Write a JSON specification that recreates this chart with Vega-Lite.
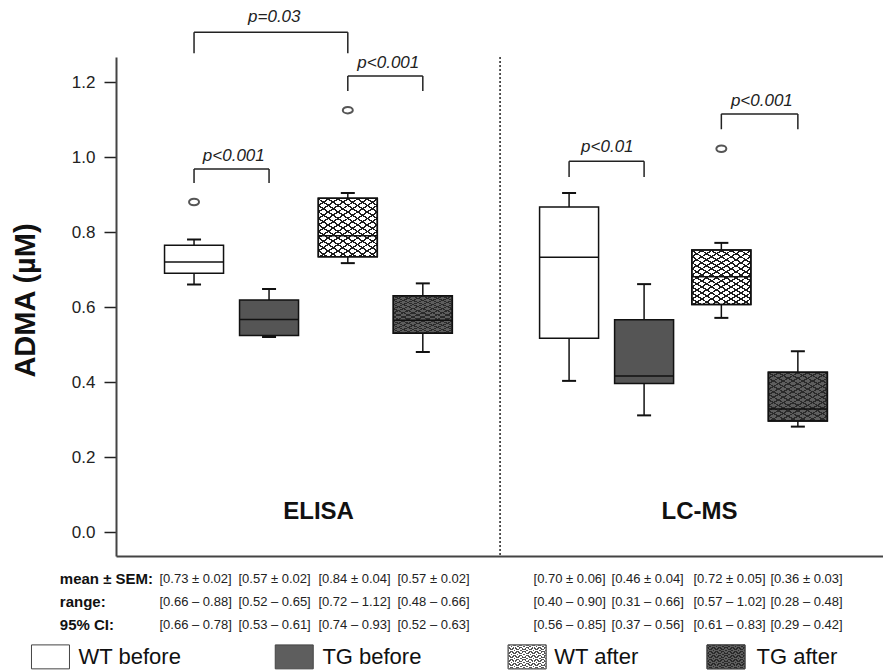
{
"$schema": "https://vega.github.io/schema/vega-lite/v6.json",
"width": 767,
"height": 499,
"autosize": {"type": "none"},
"padding": {"left": 116, "top": 57, "right": 0, "bottom": 116},
"background": "white",
"config": {
  "font": "Liberation Sans",
  "view": {"stroke": null}
},
"datasets": {
  "boxes": [
    {"method":"ELISA","group":"WT before","pos":1,"lower":0.66,"q1":0.69,"median":0.72,"q3":0.765,"upper":0.78,"outlier":0.88},
    {"method":"ELISA","group":"TG before","pos":2,"lower":0.52,"q1":0.524,"median":0.567,"q3":0.619,"upper":0.648,"outlier":null},
    {"method":"ELISA","group":"WT after","pos":3.05,"lower":0.717,"q1":0.734,"median":0.79,"q3":0.89,"upper":0.904,"outlier":1.125},
    {"method":"ELISA","group":"TG after","pos":4.05,"lower":0.48,"q1":0.53,"median":0.565,"q3":0.63,"upper":0.663,"outlier":null},
    {"method":"LC-MS","group":"WT before","pos":6,"lower":0.403,"q1":0.517,"median":0.733,"q3":0.867,"upper":0.904,"outlier":null},
    {"method":"LC-MS","group":"TG before","pos":7,"lower":0.311,"q1":0.396,"median":0.416,"q3":0.566,"upper":0.661,"outlier":null},
    {"method":"LC-MS","group":"WT after","pos":8.03,"lower":0.571,"q1":0.607,"median":0.681,"q3":0.752,"upper":0.771,"outlier":1.022},
    {"method":"LC-MS","group":"TG after","pos":9.05,"lower":0.281,"q1":0.296,"median":0.328,"q3":0.426,"upper":0.482,"outlier":null}
  ],
  "brackets": [
    {"x1":1,"x2":3.05,"top":1.333,"bot":1.277,"label":"p=0.03","tx":2.07,"ty":1.373},
    {"x1":3.05,"x2":4.05,"top":1.216,"bot":1.176,"label":"p<0.001","tx":3.59,"ty":1.251},
    {"x1":1,"x2":2,"top":0.968,"bot":0.931,"label":"p<0.001","tx":1.53,"ty":1.003},
    {"x1":6,"x2":7,"top":0.989,"bot":0.947,"label":"p<0.01","tx":6.51,"ty":1.027},
    {"x1":8.03,"x2":9.05,"top":1.115,"bot":1.074,"label":"p<0.001","tx":8.57,"ty":1.149}
  ],
  "divider": [{"x":5.08}],
  "methods": [
    {"text":"ELISA","x":2.66,"y":0.053},
    {"text":"LC-MS","x":7.74,"y":0.053}
  ],
  "rowlabels": [
    {"text":"mean ± SEM:","x":-0.789,"y":-0.125},
    {"text":"range:","x":-0.789,"y":-0.187},
    {"text":"95% CI:","x":-0.789,"y":-0.248}
  ],
  "table": [
    {"text":"[0.73 ± 0.02]","x":0.539,"y":-0.125},
    {"text":"[0.57 ± 0.02]","x":1.592,"y":-0.125},
    {"text":"[0.84 ± 0.04]","x":2.658,"y":-0.125},
    {"text":"[0.57 ± 0.02]","x":3.711,"y":-0.125},
    {"text":"[0.70 ± 0.06]","x":5.526,"y":-0.125},
    {"text":"[0.46 ± 0.04]","x":6.566,"y":-0.125},
    {"text":"[0.72 ± 0.05]","x":7.658,"y":-0.125},
    {"text":"[0.36 ± 0.03]","x":8.684,"y":-0.125},
    {"text":"[0.66 – 0.88]","x":0.539,"y":-0.187},
    {"text":"[0.52 – 0.65]","x":1.592,"y":-0.187},
    {"text":"[0.72 – 1.12]","x":2.658,"y":-0.187},
    {"text":"[0.48 – 0.66]","x":3.711,"y":-0.187},
    {"text":"[0.40 – 0.90]","x":5.526,"y":-0.187},
    {"text":"[0.31 – 0.66]","x":6.566,"y":-0.187},
    {"text":"[0.57 – 1.02]","x":7.658,"y":-0.187},
    {"text":"[0.28 – 0.48]","x":8.684,"y":-0.187},
    {"text":"[0.66 – 0.78]","x":0.539,"y":-0.248},
    {"text":"[0.53 – 0.61]","x":1.592,"y":-0.248},
    {"text":"[0.74 – 0.93]","x":2.658,"y":-0.248},
    {"text":"[0.52 – 0.63]","x":3.711,"y":-0.248},
    {"text":"[0.56 – 0.85]","x":5.526,"y":-0.248},
    {"text":"[0.37 – 0.56]","x":6.566,"y":-0.248},
    {"text":"[0.61 – 0.83]","x":7.658,"y":-0.248},
    {"text":"[0.29 – 0.42]","x":8.684,"y":-0.248}
  ],
  "legend": [
    {"group":"WT before","sx":-0.914,"lx":-0.539,"y":-0.333},
    {"group":"TG before","sx":2.336,"lx":2.711,"y":-0.333},
    {"group":"WT after","sx":5.441,"lx":5.803,"y":-0.333},
    {"group":"TG after","sx":8.092,"lx":8.5,"y":-0.333}
  ]
},
"layer": [
  {
    "data": {"name": "boxes"},
    "mark": {"type": "rule", "color": "#111111", "strokeWidth": 1.5},
    "encoding": {
      "x": {"field": "pos", "type": "quantitative", "scale": {"domain": [0.0263, 10.1184], "nice": false, "zero": false},
            "axis": {"title": null, "labels": false, "ticks": false, "grid": false, "domain": true, "domainColor": "#444444", "domainWidth": 2}},
      "y": {"field": "lower", "type": "quantitative", "scale": {"domain": [-0.064, 1.26667], "nice": false, "zero": false},
            "axis": {"title": "ADMA (µM)", "values": [0, 0.2, 0.4, 0.6, 0.8, 1, 1.2], "format": ".1f", "grid": false,
                     "labelFontSize": 17, "labelColor": "#222222", "tickSize": 12, "tickWidth": 1.5, "tickColor": "#222222",
                     "domainColor": "#444444", "domainWidth": 2, "labelPadding": 9,
                     "titleFontSize": 29, "titleFontWeight": "bold", "titleColor": "#111111",
                     "titleX": -91, "titleY": 243, "titleAngle": -90, "titleAlign": "center", "titleBaseline": "middle"}},
      "y2": {"field": "upper"}
    }
  },
  {
    "data": {"name": "boxes"},
    "transform": [{"filter": {"field": "group", "oneOf": ["WT before", "TG before"]}}],
    "mark": {"type": "bar", "size": 59, "stroke": "#111111", "strokeWidth": 1.5},
    "encoding": {
      "x": {"field": "pos", "type": "quantitative"},
      "y": {"field": "q1", "type": "quantitative"},
      "y2": {"field": "q3"},
      "fill": {"condition": {"test": "datum.group === 'TG before'", "value": "#555555"}, "value": "#ffffff"}
    }
  },
  {
    "data": {"name": "boxes"},
    "transform": [{"filter": {"field": "group", "equal": "WT after"}}],
    "mark": {"type": "bar", "size": 59, "stroke": "#111111", "strokeWidth": 1.5,
      "fill": {"gradient": "linear", "x1": 0, "y1": 0, "x2": 0.77, "y2": 1.15, "stops": [
      {"offset":0,"color":"#1e1e1e"},{"offset":0.0167,"color":"#1e1e1e"},{"offset":0.0167,"color":"#ffffff"},{"offset":0.0667,"color":"#ffffff"},
      {"offset":0.0667,"color":"#1e1e1e"},{"offset":0.0833,"color":"#1e1e1e"},{"offset":0.0833,"color":"#ffffff"},{"offset":0.1333,"color":"#ffffff"},
      {"offset":0.1333,"color":"#1e1e1e"},{"offset":0.15,"color":"#1e1e1e"},{"offset":0.15,"color":"#ffffff"},{"offset":0.2,"color":"#ffffff"},
      {"offset":0.2,"color":"#1e1e1e"},{"offset":0.2167,"color":"#1e1e1e"},{"offset":0.2167,"color":"#ffffff"},{"offset":0.2667,"color":"#ffffff"},
      {"offset":0.2667,"color":"#1e1e1e"},{"offset":0.2833,"color":"#1e1e1e"},{"offset":0.2833,"color":"#ffffff"},{"offset":0.3333,"color":"#ffffff"},
      {"offset":0.3333,"color":"#1e1e1e"},{"offset":0.35,"color":"#1e1e1e"},{"offset":0.35,"color":"#ffffff"},{"offset":0.4,"color":"#ffffff"},
      {"offset":0.4,"color":"#1e1e1e"},{"offset":0.4167,"color":"#1e1e1e"},{"offset":0.4167,"color":"#ffffff"},{"offset":0.4667,"color":"#ffffff"},
      {"offset":0.4667,"color":"#1e1e1e"},{"offset":0.4833,"color":"#1e1e1e"},{"offset":0.4833,"color":"#ffffff"},{"offset":0.5333,"color":"#ffffff"},
      {"offset":0.5333,"color":"#1e1e1e"},{"offset":0.55,"color":"#1e1e1e"},{"offset":0.55,"color":"#ffffff"},{"offset":0.6,"color":"#ffffff"},
      {"offset":0.6,"color":"#1e1e1e"},{"offset":0.6167,"color":"#1e1e1e"},{"offset":0.6167,"color":"#ffffff"},{"offset":0.6667,"color":"#ffffff"},
      {"offset":0.6667,"color":"#1e1e1e"},{"offset":0.6833,"color":"#1e1e1e"},{"offset":0.6833,"color":"#ffffff"},{"offset":0.7333,"color":"#ffffff"},
      {"offset":0.7333,"color":"#1e1e1e"},{"offset":0.75,"color":"#1e1e1e"},{"offset":0.75,"color":"#ffffff"},{"offset":0.8,"color":"#ffffff"},
      {"offset":0.8,"color":"#1e1e1e"},{"offset":0.8167,"color":"#1e1e1e"},{"offset":0.8167,"color":"#ffffff"},{"offset":0.8667,"color":"#ffffff"},
      {"offset":0.8667,"color":"#1e1e1e"},{"offset":0.8833,"color":"#1e1e1e"},{"offset":0.8833,"color":"#ffffff"},{"offset":0.9333,"color":"#ffffff"},
      {"offset":0.9333,"color":"#1e1e1e"},{"offset":0.95,"color":"#1e1e1e"},{"offset":0.95,"color":"#ffffff"},{"offset":1,"color":"#ffffff"}
      ]}},
    "encoding": {
      "x": {"field": "pos", "type": "quantitative"},
      "y": {"field": "q1", "type": "quantitative"},
      "y2": {"field": "q3"}
    }
  },
  {
    "data": {"name": "boxes"},
    "transform": [{"filter": {"field": "group", "equal": "WT after"}}],
    "mark": {"type": "bar", "size": 59, "stroke": "#111111", "strokeWidth": 1.5,
      "fill": {"gradient": "linear", "x1": 1, "y1": 0, "x2": 0.23, "y2": 1.15, "stops": [
      {"offset":0,"color":"#1e1e1e"},{"offset":0.0167,"color":"#1e1e1e"},{"offset":0.0167,"color":"rgba(0,0,0,0)"},{"offset":0.0667,"color":"rgba(0,0,0,0)"},
      {"offset":0.0667,"color":"#1e1e1e"},{"offset":0.0833,"color":"#1e1e1e"},{"offset":0.0833,"color":"rgba(0,0,0,0)"},{"offset":0.1333,"color":"rgba(0,0,0,0)"},
      {"offset":0.1333,"color":"#1e1e1e"},{"offset":0.15,"color":"#1e1e1e"},{"offset":0.15,"color":"rgba(0,0,0,0)"},{"offset":0.2,"color":"rgba(0,0,0,0)"},
      {"offset":0.2,"color":"#1e1e1e"},{"offset":0.2167,"color":"#1e1e1e"},{"offset":0.2167,"color":"rgba(0,0,0,0)"},{"offset":0.2667,"color":"rgba(0,0,0,0)"},
      {"offset":0.2667,"color":"#1e1e1e"},{"offset":0.2833,"color":"#1e1e1e"},{"offset":0.2833,"color":"rgba(0,0,0,0)"},{"offset":0.3333,"color":"rgba(0,0,0,0)"},
      {"offset":0.3333,"color":"#1e1e1e"},{"offset":0.35,"color":"#1e1e1e"},{"offset":0.35,"color":"rgba(0,0,0,0)"},{"offset":0.4,"color":"rgba(0,0,0,0)"},
      {"offset":0.4,"color":"#1e1e1e"},{"offset":0.4167,"color":"#1e1e1e"},{"offset":0.4167,"color":"rgba(0,0,0,0)"},{"offset":0.4667,"color":"rgba(0,0,0,0)"},
      {"offset":0.4667,"color":"#1e1e1e"},{"offset":0.4833,"color":"#1e1e1e"},{"offset":0.4833,"color":"rgba(0,0,0,0)"},{"offset":0.5333,"color":"rgba(0,0,0,0)"},
      {"offset":0.5333,"color":"#1e1e1e"},{"offset":0.55,"color":"#1e1e1e"},{"offset":0.55,"color":"rgba(0,0,0,0)"},{"offset":0.6,"color":"rgba(0,0,0,0)"},
      {"offset":0.6,"color":"#1e1e1e"},{"offset":0.6167,"color":"#1e1e1e"},{"offset":0.6167,"color":"rgba(0,0,0,0)"},{"offset":0.6667,"color":"rgba(0,0,0,0)"},
      {"offset":0.6667,"color":"#1e1e1e"},{"offset":0.6833,"color":"#1e1e1e"},{"offset":0.6833,"color":"rgba(0,0,0,0)"},{"offset":0.7333,"color":"rgba(0,0,0,0)"},
      {"offset":0.7333,"color":"#1e1e1e"},{"offset":0.75,"color":"#1e1e1e"},{"offset":0.75,"color":"rgba(0,0,0,0)"},{"offset":0.8,"color":"rgba(0,0,0,0)"},
      {"offset":0.8,"color":"#1e1e1e"},{"offset":0.8167,"color":"#1e1e1e"},{"offset":0.8167,"color":"rgba(0,0,0,0)"},{"offset":0.8667,"color":"rgba(0,0,0,0)"},
      {"offset":0.8667,"color":"#1e1e1e"},{"offset":0.8833,"color":"#1e1e1e"},{"offset":0.8833,"color":"rgba(0,0,0,0)"},{"offset":0.9333,"color":"rgba(0,0,0,0)"},
      {"offset":0.9333,"color":"#1e1e1e"},{"offset":0.95,"color":"#1e1e1e"},{"offset":0.95,"color":"rgba(0,0,0,0)"},{"offset":1,"color":"rgba(0,0,0,0)"}
      ]}},
    "encoding": {
      "x": {"field": "pos", "type": "quantitative"},
      "y": {"field": "q1", "type": "quantitative"},
      "y2": {"field": "q3"}
    }
  },
  {
    "data": {"name": "boxes"},
    "transform": [{"filter": {"field": "group", "equal": "TG after"}}],
    "mark": {"type": "bar", "size": 59, "stroke": "#111111", "strokeWidth": 1.5,
      "fill": {"gradient": "linear", "x1": 0, "y1": 0, "x2": 0.77, "y2": 1.15, "stops": [
      {"offset":0,"color":"#2a2a2a"},{"offset":0.0167,"color":"#2a2a2a"},{"offset":0.0167,"color":"#5e5e5e"},{"offset":0.0667,"color":"#5e5e5e"},
      {"offset":0.0667,"color":"#2a2a2a"},{"offset":0.0833,"color":"#2a2a2a"},{"offset":0.0833,"color":"#5e5e5e"},{"offset":0.1333,"color":"#5e5e5e"},
      {"offset":0.1333,"color":"#2a2a2a"},{"offset":0.15,"color":"#2a2a2a"},{"offset":0.15,"color":"#5e5e5e"},{"offset":0.2,"color":"#5e5e5e"},
      {"offset":0.2,"color":"#2a2a2a"},{"offset":0.2167,"color":"#2a2a2a"},{"offset":0.2167,"color":"#5e5e5e"},{"offset":0.2667,"color":"#5e5e5e"},
      {"offset":0.2667,"color":"#2a2a2a"},{"offset":0.2833,"color":"#2a2a2a"},{"offset":0.2833,"color":"#5e5e5e"},{"offset":0.3333,"color":"#5e5e5e"},
      {"offset":0.3333,"color":"#2a2a2a"},{"offset":0.35,"color":"#2a2a2a"},{"offset":0.35,"color":"#5e5e5e"},{"offset":0.4,"color":"#5e5e5e"},
      {"offset":0.4,"color":"#2a2a2a"},{"offset":0.4167,"color":"#2a2a2a"},{"offset":0.4167,"color":"#5e5e5e"},{"offset":0.4667,"color":"#5e5e5e"},
      {"offset":0.4667,"color":"#2a2a2a"},{"offset":0.4833,"color":"#2a2a2a"},{"offset":0.4833,"color":"#5e5e5e"},{"offset":0.5333,"color":"#5e5e5e"},
      {"offset":0.5333,"color":"#2a2a2a"},{"offset":0.55,"color":"#2a2a2a"},{"offset":0.55,"color":"#5e5e5e"},{"offset":0.6,"color":"#5e5e5e"},
      {"offset":0.6,"color":"#2a2a2a"},{"offset":0.6167,"color":"#2a2a2a"},{"offset":0.6167,"color":"#5e5e5e"},{"offset":0.6667,"color":"#5e5e5e"},
      {"offset":0.6667,"color":"#2a2a2a"},{"offset":0.6833,"color":"#2a2a2a"},{"offset":0.6833,"color":"#5e5e5e"},{"offset":0.7333,"color":"#5e5e5e"},
      {"offset":0.7333,"color":"#2a2a2a"},{"offset":0.75,"color":"#2a2a2a"},{"offset":0.75,"color":"#5e5e5e"},{"offset":0.8,"color":"#5e5e5e"},
      {"offset":0.8,"color":"#2a2a2a"},{"offset":0.8167,"color":"#2a2a2a"},{"offset":0.8167,"color":"#5e5e5e"},{"offset":0.8667,"color":"#5e5e5e"},
      {"offset":0.8667,"color":"#2a2a2a"},{"offset":0.8833,"color":"#2a2a2a"},{"offset":0.8833,"color":"#5e5e5e"},{"offset":0.9333,"color":"#5e5e5e"},
      {"offset":0.9333,"color":"#2a2a2a"},{"offset":0.95,"color":"#2a2a2a"},{"offset":0.95,"color":"#5e5e5e"},{"offset":1,"color":"#5e5e5e"}
      ]}},
    "encoding": {
      "x": {"field": "pos", "type": "quantitative"},
      "y": {"field": "q1", "type": "quantitative"},
      "y2": {"field": "q3"}
    }
  },
  {
    "data": {"name": "boxes"},
    "transform": [{"filter": {"field": "group", "equal": "TG after"}}],
    "mark": {"type": "bar", "size": 59, "stroke": "#111111", "strokeWidth": 1.5,
      "fill": {"gradient": "linear", "x1": 1, "y1": 0, "x2": 0.23, "y2": 1.15, "stops": [
      {"offset":0,"color":"#2a2a2a"},{"offset":0.0167,"color":"#2a2a2a"},{"offset":0.0167,"color":"rgba(0,0,0,0)"},{"offset":0.0667,"color":"rgba(0,0,0,0)"},
      {"offset":0.0667,"color":"#2a2a2a"},{"offset":0.0833,"color":"#2a2a2a"},{"offset":0.0833,"color":"rgba(0,0,0,0)"},{"offset":0.1333,"color":"rgba(0,0,0,0)"},
      {"offset":0.1333,"color":"#2a2a2a"},{"offset":0.15,"color":"#2a2a2a"},{"offset":0.15,"color":"rgba(0,0,0,0)"},{"offset":0.2,"color":"rgba(0,0,0,0)"},
      {"offset":0.2,"color":"#2a2a2a"},{"offset":0.2167,"color":"#2a2a2a"},{"offset":0.2167,"color":"rgba(0,0,0,0)"},{"offset":0.2667,"color":"rgba(0,0,0,0)"},
      {"offset":0.2667,"color":"#2a2a2a"},{"offset":0.2833,"color":"#2a2a2a"},{"offset":0.2833,"color":"rgba(0,0,0,0)"},{"offset":0.3333,"color":"rgba(0,0,0,0)"},
      {"offset":0.3333,"color":"#2a2a2a"},{"offset":0.35,"color":"#2a2a2a"},{"offset":0.35,"color":"rgba(0,0,0,0)"},{"offset":0.4,"color":"rgba(0,0,0,0)"},
      {"offset":0.4,"color":"#2a2a2a"},{"offset":0.4167,"color":"#2a2a2a"},{"offset":0.4167,"color":"rgba(0,0,0,0)"},{"offset":0.4667,"color":"rgba(0,0,0,0)"},
      {"offset":0.4667,"color":"#2a2a2a"},{"offset":0.4833,"color":"#2a2a2a"},{"offset":0.4833,"color":"rgba(0,0,0,0)"},{"offset":0.5333,"color":"rgba(0,0,0,0)"},
      {"offset":0.5333,"color":"#2a2a2a"},{"offset":0.55,"color":"#2a2a2a"},{"offset":0.55,"color":"rgba(0,0,0,0)"},{"offset":0.6,"color":"rgba(0,0,0,0)"},
      {"offset":0.6,"color":"#2a2a2a"},{"offset":0.6167,"color":"#2a2a2a"},{"offset":0.6167,"color":"rgba(0,0,0,0)"},{"offset":0.6667,"color":"rgba(0,0,0,0)"},
      {"offset":0.6667,"color":"#2a2a2a"},{"offset":0.6833,"color":"#2a2a2a"},{"offset":0.6833,"color":"rgba(0,0,0,0)"},{"offset":0.7333,"color":"rgba(0,0,0,0)"},
      {"offset":0.7333,"color":"#2a2a2a"},{"offset":0.75,"color":"#2a2a2a"},{"offset":0.75,"color":"rgba(0,0,0,0)"},{"offset":0.8,"color":"rgba(0,0,0,0)"},
      {"offset":0.8,"color":"#2a2a2a"},{"offset":0.8167,"color":"#2a2a2a"},{"offset":0.8167,"color":"rgba(0,0,0,0)"},{"offset":0.8667,"color":"rgba(0,0,0,0)"},
      {"offset":0.8667,"color":"#2a2a2a"},{"offset":0.8833,"color":"#2a2a2a"},{"offset":0.8833,"color":"rgba(0,0,0,0)"},{"offset":0.9333,"color":"rgba(0,0,0,0)"},
      {"offset":0.9333,"color":"#2a2a2a"},{"offset":0.95,"color":"#2a2a2a"},{"offset":0.95,"color":"rgba(0,0,0,0)"},{"offset":1,"color":"rgba(0,0,0,0)"}
      ]}},
    "encoding": {
      "x": {"field": "pos", "type": "quantitative"},
      "y": {"field": "q1", "type": "quantitative"},
      "y2": {"field": "q3"}
    }
  },
  {
    "data": {"name": "boxes"},
    "mark": {"type": "tick", "orient": "horizontal", "size": 59, "thickness": 1.5, "color": "#111111", "opacity": 1},
    "encoding": {
      "x": {"field": "pos", "type": "quantitative"},
      "y": {"field": "median", "type": "quantitative"}
    }
  },
  {
    "data": {"name": "boxes"},
    "mark": {"type": "tick", "orient": "horizontal", "size": 14, "thickness": 2, "color": "#111111", "opacity": 1},
    "encoding": {
      "x": {"field": "pos", "type": "quantitative"},
      "y": {"field": "upper", "type": "quantitative"}
    }
  },
  {
    "data": {"name": "boxes"},
    "mark": {"type": "tick", "orient": "horizontal", "size": 14, "thickness": 2, "color": "#111111", "opacity": 1},
    "encoding": {
      "x": {"field": "pos", "type": "quantitative"},
      "y": {"field": "lower", "type": "quantitative"}
    }
  },
  {
    "data": {"name": "boxes"},
    "transform": [{"filter": "isValid(datum.outlier)"}],
    "mark": {"type": "point", "shape": "M-1,0A1,0.65 0 1,1 1,0A1,0.65 0 1,1 -1,0Z", "size": 100, "filled": false, "fill": "#ffffff", "stroke": "#555555", "strokeWidth": 2, "opacity": 1},
    "encoding": {
      "x": {"field": "pos", "type": "quantitative"},
      "y": {"field": "outlier", "type": "quantitative"}
    }
  },
  {
    "data": {"name": "divider"},
    "mark": {"type": "rule", "color": "#222222", "strokeWidth": 1.5, "strokeDash": [2, 2]},
    "encoding": {
      "x": {"field": "x", "type": "quantitative"}
    }
  },
  {
    "data": {"name": "brackets"},
    "mark": {"type": "rule", "color": "#222222", "strokeWidth": 1.5},
    "encoding": {
      "x": {"field": "x1", "type": "quantitative"},
      "x2": {"field": "x2"},
      "y": {"field": "top", "type": "quantitative"}
    }
  },
  {
    "data": {"name": "brackets"},
    "mark": {"type": "rule", "color": "#222222", "strokeWidth": 1.5},
    "encoding": {
      "x": {"field": "x1", "type": "quantitative"},
      "y": {"field": "top", "type": "quantitative"},
      "y2": {"field": "bot"}
    }
  },
  {
    "data": {"name": "brackets"},
    "mark": {"type": "rule", "color": "#222222", "strokeWidth": 1.5},
    "encoding": {
      "x": {"field": "x2", "type": "quantitative"},
      "y": {"field": "top", "type": "quantitative"},
      "y2": {"field": "bot"}
    }
  },
  {
    "data": {"name": "brackets"},
    "mark": {"type": "text", "fontSize": 17, "fontStyle": "italic", "color": "#222222", "align": "center", "baseline": "middle"},
    "encoding": {
      "x": {"field": "tx", "type": "quantitative"},
      "y": {"field": "ty", "type": "quantitative"},
      "text": {"field": "label"}
    }
  },
  {
    "data": {"name": "methods"},
    "mark": {"type": "text", "fontSize": 24, "fontWeight": "bold", "color": "#111111", "align": "center", "baseline": "middle"},
    "encoding": {
      "x": {"field": "x", "type": "quantitative"},
      "y": {"field": "y", "type": "quantitative"},
      "text": {"field": "text"}
    }
  },
  {
    "data": {"name": "rowlabels"},
    "mark": {"type": "text", "fontSize": 15, "fontWeight": "bold", "color": "#111111", "align": "left", "baseline": "middle"},
    "encoding": {
      "x": {"field": "x", "type": "quantitative"},
      "y": {"field": "y", "type": "quantitative"},
      "text": {"field": "text"}
    }
  },
  {
    "data": {"name": "table"},
    "mark": {"type": "text", "fontSize": 13, "color": "#222222", "align": "left", "baseline": "middle"},
    "encoding": {
      "x": {"field": "x", "type": "quantitative"},
      "y": {"field": "y", "type": "quantitative"},
      "text": {"field": "text"}
    }
  },
  {
    "data": {"name": "legend"},
    "transform": [{"filter": {"field": "group", "oneOf": ["WT before", "TG before"]}}],
    "mark": {"type": "point", "shape": "M-1,-0.63H1V0.63H-1Z", "size": 1444, "filled": true, "stroke": "#444444", "strokeWidth": 1, "opacity": 1},
    "encoding": {
      "x": {"field": "sx", "type": "quantitative"},
      "y": {"field": "y", "type": "quantitative"},
      "fill": {"condition": {"test": "datum.group === 'TG before'", "value": "#5e5e5e"}, "value": "#ffffff"}
    }
  },
  {
    "data": {"name": "legend"},
    "transform": [{"filter": {"field": "group", "equal": "WT after"}}],
    "mark": {"type": "point", "shape": "M-1,-0.63H1V0.63H-1Z", "size": 1444, "filled": true, "stroke": "#666666", "strokeWidth": 1, "opacity": 1,
      "fill": {"gradient": "linear", "x1": 0, "y1": 0, "x2": 0.77, "y2": 1.15, "stops": [
      {"offset":0,"color":"#555555"},{"offset":0.0167,"color":"#555555"},{"offset":0.0167,"color":"#ffffff"},{"offset":0.0667,"color":"#ffffff"},
      {"offset":0.0667,"color":"#555555"},{"offset":0.0833,"color":"#555555"},{"offset":0.0833,"color":"#ffffff"},{"offset":0.1333,"color":"#ffffff"},
      {"offset":0.1333,"color":"#555555"},{"offset":0.15,"color":"#555555"},{"offset":0.15,"color":"#ffffff"},{"offset":0.2,"color":"#ffffff"},
      {"offset":0.2,"color":"#555555"},{"offset":0.2167,"color":"#555555"},{"offset":0.2167,"color":"#ffffff"},{"offset":0.2667,"color":"#ffffff"},
      {"offset":0.2667,"color":"#555555"},{"offset":0.2833,"color":"#555555"},{"offset":0.2833,"color":"#ffffff"},{"offset":0.3333,"color":"#ffffff"},
      {"offset":0.3333,"color":"#555555"},{"offset":0.35,"color":"#555555"},{"offset":0.35,"color":"#ffffff"},{"offset":0.4,"color":"#ffffff"},
      {"offset":0.4,"color":"#555555"},{"offset":0.4167,"color":"#555555"},{"offset":0.4167,"color":"#ffffff"},{"offset":0.4667,"color":"#ffffff"},
      {"offset":0.4667,"color":"#555555"},{"offset":0.4833,"color":"#555555"},{"offset":0.4833,"color":"#ffffff"},{"offset":0.5333,"color":"#ffffff"},
      {"offset":0.5333,"color":"#555555"},{"offset":0.55,"color":"#555555"},{"offset":0.55,"color":"#ffffff"},{"offset":0.6,"color":"#ffffff"},
      {"offset":0.6,"color":"#555555"},{"offset":0.6167,"color":"#555555"},{"offset":0.6167,"color":"#ffffff"},{"offset":0.6667,"color":"#ffffff"},
      {"offset":0.6667,"color":"#555555"},{"offset":0.6833,"color":"#555555"},{"offset":0.6833,"color":"#ffffff"},{"offset":0.7333,"color":"#ffffff"},
      {"offset":0.7333,"color":"#555555"},{"offset":0.75,"color":"#555555"},{"offset":0.75,"color":"#ffffff"},{"offset":0.8,"color":"#ffffff"},
      {"offset":0.8,"color":"#555555"},{"offset":0.8167,"color":"#555555"},{"offset":0.8167,"color":"#ffffff"},{"offset":0.8667,"color":"#ffffff"},
      {"offset":0.8667,"color":"#555555"},{"offset":0.8833,"color":"#555555"},{"offset":0.8833,"color":"#ffffff"},{"offset":0.9333,"color":"#ffffff"},
      {"offset":0.9333,"color":"#555555"},{"offset":0.95,"color":"#555555"},{"offset":0.95,"color":"#ffffff"},{"offset":1,"color":"#ffffff"}
      ]}},
    "encoding": {
      "x": {"field": "sx", "type": "quantitative"},
      "y": {"field": "y", "type": "quantitative"}
    }
  },
  {
    "data": {"name": "legend"},
    "transform": [{"filter": {"field": "group", "equal": "WT after"}}],
    "mark": {"type": "point", "shape": "M-1,-0.63H1V0.63H-1Z", "size": 1444, "filled": true, "stroke": "#666666", "strokeWidth": 1, "opacity": 1,
      "fill": {"gradient": "linear", "x1": 1, "y1": 0, "x2": 0.23, "y2": 1.15, "stops": [
      {"offset":0,"color":"#555555"},{"offset":0.0167,"color":"#555555"},{"offset":0.0167,"color":"rgba(0,0,0,0)"},{"offset":0.0667,"color":"rgba(0,0,0,0)"},
      {"offset":0.0667,"color":"#555555"},{"offset":0.0833,"color":"#555555"},{"offset":0.0833,"color":"rgba(0,0,0,0)"},{"offset":0.1333,"color":"rgba(0,0,0,0)"},
      {"offset":0.1333,"color":"#555555"},{"offset":0.15,"color":"#555555"},{"offset":0.15,"color":"rgba(0,0,0,0)"},{"offset":0.2,"color":"rgba(0,0,0,0)"},
      {"offset":0.2,"color":"#555555"},{"offset":0.2167,"color":"#555555"},{"offset":0.2167,"color":"rgba(0,0,0,0)"},{"offset":0.2667,"color":"rgba(0,0,0,0)"},
      {"offset":0.2667,"color":"#555555"},{"offset":0.2833,"color":"#555555"},{"offset":0.2833,"color":"rgba(0,0,0,0)"},{"offset":0.3333,"color":"rgba(0,0,0,0)"},
      {"offset":0.3333,"color":"#555555"},{"offset":0.35,"color":"#555555"},{"offset":0.35,"color":"rgba(0,0,0,0)"},{"offset":0.4,"color":"rgba(0,0,0,0)"},
      {"offset":0.4,"color":"#555555"},{"offset":0.4167,"color":"#555555"},{"offset":0.4167,"color":"rgba(0,0,0,0)"},{"offset":0.4667,"color":"rgba(0,0,0,0)"},
      {"offset":0.4667,"color":"#555555"},{"offset":0.4833,"color":"#555555"},{"offset":0.4833,"color":"rgba(0,0,0,0)"},{"offset":0.5333,"color":"rgba(0,0,0,0)"},
      {"offset":0.5333,"color":"#555555"},{"offset":0.55,"color":"#555555"},{"offset":0.55,"color":"rgba(0,0,0,0)"},{"offset":0.6,"color":"rgba(0,0,0,0)"},
      {"offset":0.6,"color":"#555555"},{"offset":0.6167,"color":"#555555"},{"offset":0.6167,"color":"rgba(0,0,0,0)"},{"offset":0.6667,"color":"rgba(0,0,0,0)"},
      {"offset":0.6667,"color":"#555555"},{"offset":0.6833,"color":"#555555"},{"offset":0.6833,"color":"rgba(0,0,0,0)"},{"offset":0.7333,"color":"rgba(0,0,0,0)"},
      {"offset":0.7333,"color":"#555555"},{"offset":0.75,"color":"#555555"},{"offset":0.75,"color":"rgba(0,0,0,0)"},{"offset":0.8,"color":"rgba(0,0,0,0)"},
      {"offset":0.8,"color":"#555555"},{"offset":0.8167,"color":"#555555"},{"offset":0.8167,"color":"rgba(0,0,0,0)"},{"offset":0.8667,"color":"rgba(0,0,0,0)"},
      {"offset":0.8667,"color":"#555555"},{"offset":0.8833,"color":"#555555"},{"offset":0.8833,"color":"rgba(0,0,0,0)"},{"offset":0.9333,"color":"rgba(0,0,0,0)"},
      {"offset":0.9333,"color":"#555555"},{"offset":0.95,"color":"#555555"},{"offset":0.95,"color":"rgba(0,0,0,0)"},{"offset":1,"color":"rgba(0,0,0,0)"}
      ]}},
    "encoding": {
      "x": {"field": "sx", "type": "quantitative"},
      "y": {"field": "y", "type": "quantitative"}
    }
  },
  {
    "data": {"name": "legend"},
    "transform": [{"filter": {"field": "group", "equal": "TG after"}}],
    "mark": {"type": "point", "shape": "M-1,-0.63H1V0.63H-1Z", "size": 1444, "filled": true, "stroke": "#444444", "strokeWidth": 1, "opacity": 1,
      "fill": {"gradient": "linear", "x1": 0, "y1": 0, "x2": 0.77, "y2": 1.15, "stops": [
      {"offset":0,"color":"#2a2a2a"},{"offset":0.0167,"color":"#2a2a2a"},{"offset":0.0167,"color":"#5e5e5e"},{"offset":0.0667,"color":"#5e5e5e"},
      {"offset":0.0667,"color":"#2a2a2a"},{"offset":0.0833,"color":"#2a2a2a"},{"offset":0.0833,"color":"#5e5e5e"},{"offset":0.1333,"color":"#5e5e5e"},
      {"offset":0.1333,"color":"#2a2a2a"},{"offset":0.15,"color":"#2a2a2a"},{"offset":0.15,"color":"#5e5e5e"},{"offset":0.2,"color":"#5e5e5e"},
      {"offset":0.2,"color":"#2a2a2a"},{"offset":0.2167,"color":"#2a2a2a"},{"offset":0.2167,"color":"#5e5e5e"},{"offset":0.2667,"color":"#5e5e5e"},
      {"offset":0.2667,"color":"#2a2a2a"},{"offset":0.2833,"color":"#2a2a2a"},{"offset":0.2833,"color":"#5e5e5e"},{"offset":0.3333,"color":"#5e5e5e"},
      {"offset":0.3333,"color":"#2a2a2a"},{"offset":0.35,"color":"#2a2a2a"},{"offset":0.35,"color":"#5e5e5e"},{"offset":0.4,"color":"#5e5e5e"},
      {"offset":0.4,"color":"#2a2a2a"},{"offset":0.4167,"color":"#2a2a2a"},{"offset":0.4167,"color":"#5e5e5e"},{"offset":0.4667,"color":"#5e5e5e"},
      {"offset":0.4667,"color":"#2a2a2a"},{"offset":0.4833,"color":"#2a2a2a"},{"offset":0.4833,"color":"#5e5e5e"},{"offset":0.5333,"color":"#5e5e5e"},
      {"offset":0.5333,"color":"#2a2a2a"},{"offset":0.55,"color":"#2a2a2a"},{"offset":0.55,"color":"#5e5e5e"},{"offset":0.6,"color":"#5e5e5e"},
      {"offset":0.6,"color":"#2a2a2a"},{"offset":0.6167,"color":"#2a2a2a"},{"offset":0.6167,"color":"#5e5e5e"},{"offset":0.6667,"color":"#5e5e5e"},
      {"offset":0.6667,"color":"#2a2a2a"},{"offset":0.6833,"color":"#2a2a2a"},{"offset":0.6833,"color":"#5e5e5e"},{"offset":0.7333,"color":"#5e5e5e"},
      {"offset":0.7333,"color":"#2a2a2a"},{"offset":0.75,"color":"#2a2a2a"},{"offset":0.75,"color":"#5e5e5e"},{"offset":0.8,"color":"#5e5e5e"},
      {"offset":0.8,"color":"#2a2a2a"},{"offset":0.8167,"color":"#2a2a2a"},{"offset":0.8167,"color":"#5e5e5e"},{"offset":0.8667,"color":"#5e5e5e"},
      {"offset":0.8667,"color":"#2a2a2a"},{"offset":0.8833,"color":"#2a2a2a"},{"offset":0.8833,"color":"#5e5e5e"},{"offset":0.9333,"color":"#5e5e5e"},
      {"offset":0.9333,"color":"#2a2a2a"},{"offset":0.95,"color":"#2a2a2a"},{"offset":0.95,"color":"#5e5e5e"},{"offset":1,"color":"#5e5e5e"}
      ]}},
    "encoding": {
      "x": {"field": "sx", "type": "quantitative"},
      "y": {"field": "y", "type": "quantitative"}
    }
  },
  {
    "data": {"name": "legend"},
    "transform": [{"filter": {"field": "group", "equal": "TG after"}}],
    "mark": {"type": "point", "shape": "M-1,-0.63H1V0.63H-1Z", "size": 1444, "filled": true, "stroke": "#444444", "strokeWidth": 1, "opacity": 1,
      "fill": {"gradient": "linear", "x1": 1, "y1": 0, "x2": 0.23, "y2": 1.15, "stops": [
      {"offset":0,"color":"#2a2a2a"},{"offset":0.0167,"color":"#2a2a2a"},{"offset":0.0167,"color":"rgba(0,0,0,0)"},{"offset":0.0667,"color":"rgba(0,0,0,0)"},
      {"offset":0.0667,"color":"#2a2a2a"},{"offset":0.0833,"color":"#2a2a2a"},{"offset":0.0833,"color":"rgba(0,0,0,0)"},{"offset":0.1333,"color":"rgba(0,0,0,0)"},
      {"offset":0.1333,"color":"#2a2a2a"},{"offset":0.15,"color":"#2a2a2a"},{"offset":0.15,"color":"rgba(0,0,0,0)"},{"offset":0.2,"color":"rgba(0,0,0,0)"},
      {"offset":0.2,"color":"#2a2a2a"},{"offset":0.2167,"color":"#2a2a2a"},{"offset":0.2167,"color":"rgba(0,0,0,0)"},{"offset":0.2667,"color":"rgba(0,0,0,0)"},
      {"offset":0.2667,"color":"#2a2a2a"},{"offset":0.2833,"color":"#2a2a2a"},{"offset":0.2833,"color":"rgba(0,0,0,0)"},{"offset":0.3333,"color":"rgba(0,0,0,0)"},
      {"offset":0.3333,"color":"#2a2a2a"},{"offset":0.35,"color":"#2a2a2a"},{"offset":0.35,"color":"rgba(0,0,0,0)"},{"offset":0.4,"color":"rgba(0,0,0,0)"},
      {"offset":0.4,"color":"#2a2a2a"},{"offset":0.4167,"color":"#2a2a2a"},{"offset":0.4167,"color":"rgba(0,0,0,0)"},{"offset":0.4667,"color":"rgba(0,0,0,0)"},
      {"offset":0.4667,"color":"#2a2a2a"},{"offset":0.4833,"color":"#2a2a2a"},{"offset":0.4833,"color":"rgba(0,0,0,0)"},{"offset":0.5333,"color":"rgba(0,0,0,0)"},
      {"offset":0.5333,"color":"#2a2a2a"},{"offset":0.55,"color":"#2a2a2a"},{"offset":0.55,"color":"rgba(0,0,0,0)"},{"offset":0.6,"color":"rgba(0,0,0,0)"},
      {"offset":0.6,"color":"#2a2a2a"},{"offset":0.6167,"color":"#2a2a2a"},{"offset":0.6167,"color":"rgba(0,0,0,0)"},{"offset":0.6667,"color":"rgba(0,0,0,0)"},
      {"offset":0.6667,"color":"#2a2a2a"},{"offset":0.6833,"color":"#2a2a2a"},{"offset":0.6833,"color":"rgba(0,0,0,0)"},{"offset":0.7333,"color":"rgba(0,0,0,0)"},
      {"offset":0.7333,"color":"#2a2a2a"},{"offset":0.75,"color":"#2a2a2a"},{"offset":0.75,"color":"rgba(0,0,0,0)"},{"offset":0.8,"color":"rgba(0,0,0,0)"},
      {"offset":0.8,"color":"#2a2a2a"},{"offset":0.8167,"color":"#2a2a2a"},{"offset":0.8167,"color":"rgba(0,0,0,0)"},{"offset":0.8667,"color":"rgba(0,0,0,0)"},
      {"offset":0.8667,"color":"#2a2a2a"},{"offset":0.8833,"color":"#2a2a2a"},{"offset":0.8833,"color":"rgba(0,0,0,0)"},{"offset":0.9333,"color":"rgba(0,0,0,0)"},
      {"offset":0.9333,"color":"#2a2a2a"},{"offset":0.95,"color":"#2a2a2a"},{"offset":0.95,"color":"rgba(0,0,0,0)"},{"offset":1,"color":"rgba(0,0,0,0)"}
      ]}},
    "encoding": {
      "x": {"field": "sx", "type": "quantitative"},
      "y": {"field": "y", "type": "quantitative"}
    }
  },
  {
    "data": {"name": "legend"},
    "mark": {"type": "text", "fontSize": 22, "color": "#111111", "align": "left", "baseline": "middle"},
    "encoding": {
      "x": {"field": "lx", "type": "quantitative"},
      "y": {"field": "y", "type": "quantitative"},
      "text": {"field": "group"}
    }
  }
]
}
